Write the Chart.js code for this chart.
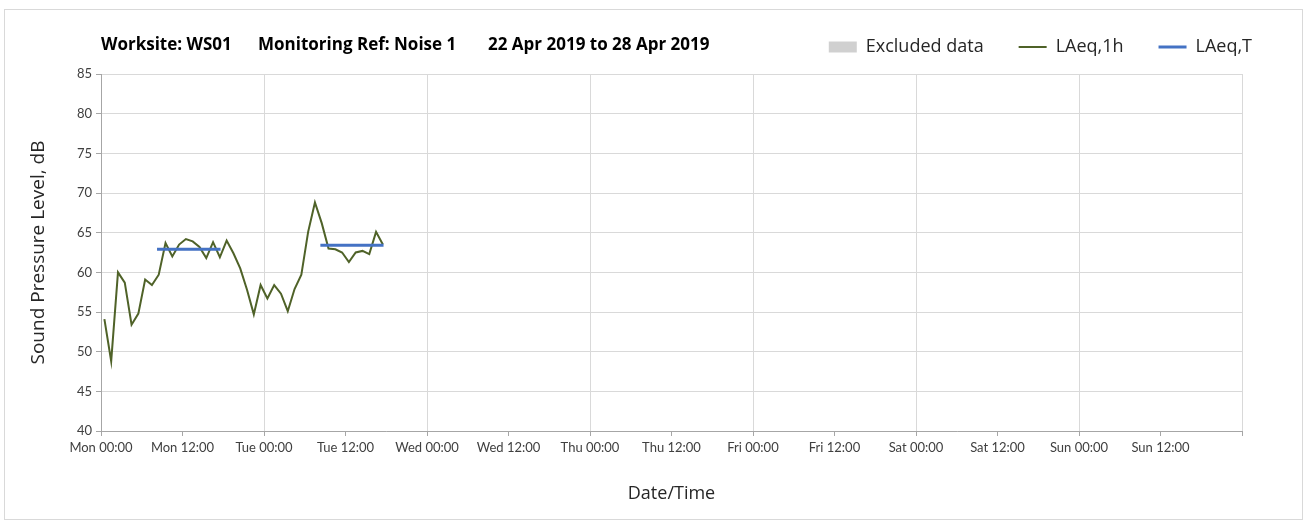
<!DOCTYPE html>
<html>
<head>
<meta charset="utf-8">
<script src="https://cdn.jsdelivr.net/npm/chart.js@4.4.1/dist/chart.umd.min.js"></script>
<style>
html, body { margin: 0; padding: 0; background: #fff; }
#wrap { position: relative; width: 1306px; height: 527px; }
#frame { position: absolute; left: 4px; top: 9px; width: 1297px; height: 509px; border: 1px solid #d9d9d9; pointer-events: none; }
</style>
</head>
<body>
<div id="wrap"><canvas id="chart" width="1306" height="527"></canvas><div id="frame"></div></div>
<script>
// hourly LAeq,1h readings (hours since Mon 00:00)
var hours = [0.5, 1.5, 2.5, 3.5, 4.5, 5.5, 6.5, 7.5, 8.5, 9.5, 10.5, 11.5, 12.5, 13.5,
	14.5, 15.5, 16.5, 17.5, 18.5, 19.5, 20.5, 21.5, 22.5, 23.5, 24.5, 25.5, 26.5, 27.5,
	28.5, 29.5, 30.5, 31.5, 32.5, 33.5, 34.5, 35.5, 36.5, 37.5, 38.5, 39.5, 40.5, 41.5];
var laeq1h = [54.1, 48.8, 60.0, 58.7, 53.4, 54.8, 59.1, 58.4, 59.7, 63.7, 62.0, 63.5, 64.2, 63.9,
	63.2, 61.8, 63.8, 61.9, 64.0, 62.4, 60.5, 57.8, 54.7, 58.4, 56.7, 58.4, 57.3, 55.1,
	57.9, 59.7, 65.1, 68.8, 66.2, 63.0, 62.9, 62.5, 61.3, 62.5, 62.7, 62.3, 65.1, 63.5];

// LAeq,T over each daytime period
var periodStart = [8.25, 32.3];
var periodEnd = [17.6, 41.6];
var laeqT = [62.9, 63.4];

var tickLabels = ['Mon 00:00', 'Mon 12:00', 'Tue 00:00', 'Tue 12:00', 'Wed 00:00', 'Wed 12:00',
	'Thu 00:00', 'Thu 12:00', 'Fri 00:00', 'Fri 12:00', 'Sat 00:00', 'Sat 12:00',
	'Sun 00:00', 'Sun 12:00'];
var titleParts = ['Worksite: WS01', 'Monitoring Ref: Noise 1', '22 Apr 2019 to 28 Apr 2019'];
var titleOffsets = [-1, 156, 386];

var FONT = 'Lato';
var FONT_WIDE = '"Open Sans"';

var lineData = hours.map(function(h, i) { return { x: h, y: laeq1h[i] }; });
var periodData = [];
laeqT.forEach(function(v, i) {
	periodData.push({ x: periodStart[i], y: v });
	periodData.push({ x: periodEnd[i], y: v });
	periodData.push({ x: periodEnd[i] + 0.01, y: null });
});

var titlePlugin = {
	id: 'sheetTitle',
	afterDraw: function(chart) {
		var ctx = chart.ctx;
		var left = chart.chartArea.left;
		ctx.save();
		ctx.font = 'bold 17px ' + FONT_WIDE;
		ctx.fillStyle = '#000';
		ctx.textBaseline = 'middle';
		titleParts.forEach(function(t, i) { ctx.fillText(t, left + titleOffsets[i] + 1, 45); });
		ctx.restore();
	}
};

var legendHeight = {
	id: 'legendHeight',
	beforeInit: function(chart) {
		var fit = chart.legend.fit;
		chart.legend.fit = function() {
			fit.bind(chart.legend)();
			this.height = 71;
		};
	}
};

var chart = new Chart(document.getElementById('chart'), {
	type: 'line',
	data: {
		datasets: [
			{ label: 'Excluded data', type: 'bar', data: [], backgroundColor: '#d0d0d0', borderColor: '#d0d0d0', legendStyle: 'rect', order: 2 },
			{ label: 'LAeq,1h', data: lineData, borderColor: '#4F6228', backgroundColor: '#4F6228', borderWidth: 2, pointRadius: 0, tension: 0, legendStyle: 'line', order: 1 },
			{ label: 'LAeq,T', data: periodData, borderColor: '#4472C4', backgroundColor: '#4472C4', borderWidth: 3, pointRadius: 0, spanGaps: false, legendStyle: 'line', order: 0 }
		]
	},
	options: {
		responsive: false,
		animation: false,
		layout: { padding: { left: 8, right: 19, top: 3, bottom: 10 } },
		plugins: {
			tooltip: { enabled: false },
			legend: {
				position: 'top',
				align: 'end',
				labels: {
					usePointStyle: true,
					pointStyleWidth: 28,
					boxHeight: 11,
					padding: 35,
					color: '#262626',
					font: { family: FONT_WIDE, size: 18 },
					generateLabels: function(chart) {
						return chart.data.datasets.map(function(ds, i) {
							return {
								text: ds.label,
								datasetIndex: i,
								pointStyle: ds.legendStyle,
								fillStyle: ds.backgroundColor,
								strokeStyle: ds.borderColor,
								lineWidth: ds.legendStyle === 'line' ? ds.borderWidth : 0,
								fontColor: '#262626',
								hidden: false
							};
						});
					}
				}
			}
		},
		scales: {
			x: {
				type: 'linear',
				min: 0,
				max: 168,
				offset: false,
				afterFit: function(s) { s.height = 86; },
				afterBuildTicks: function(s) {
					var t = [];
					for (var v = 0; v <= 168; v += 12) t.push({ value: v });
					s.ticks = t;
				},
				ticks: {
					autoSkip: false,
					maxRotation: 0,
					padding: 4,
					color: '#404040',
					font: { family: FONT, size: 13 },
					callback: function(v) { return tickLabels[v / 12] || ''; }
				},
				grid: {
					offset: false,
					color: function(c) { return c.tick && c.tick.value % 24 === 0 ? '#d9d9d9' : 'rgba(0,0,0,0)'; },
					tickColor: '#a6a6a6',
					tickLength: 5
				},
				border: { color: '#a6a6a6' },
				title: {
					display: true,
					text: 'Date/Time',
					color: '#262626',
					font: { family: FONT_WIDE, size: 18 },
					padding: { top: 0, bottom: 12 }
				}
			},
			y: {
				min: 40,
				max: 85,
				afterFit: function(s) { s.width = 93; },
				ticks: {
					stepSize: 5,
					padding: 4,
					color: '#404040',
					font: { family: FONT, size: 13 }
				},
				grid: { color: '#d9d9d9', tickColor: '#a6a6a6', tickLength: 5 },
				border: { color: '#a6a6a6' },
				title: {
					display: true,
					text: 'Sound Pressure Level, dB',
					color: '#262626',
					font: { family: FONT_WIDE, size: 19 },
					padding: { top: 19, bottom: 0 }
				}
			},
			spacer: {
				position: 'right',
				afterFit: function(s) { s.width = 45; },
				ticks: { display: false },
				grid: { display: false },
				border: { display: false }
			}
		}
	},
	plugins: [titlePlugin, legendHeight]
});
</script>
</body>
</html>
